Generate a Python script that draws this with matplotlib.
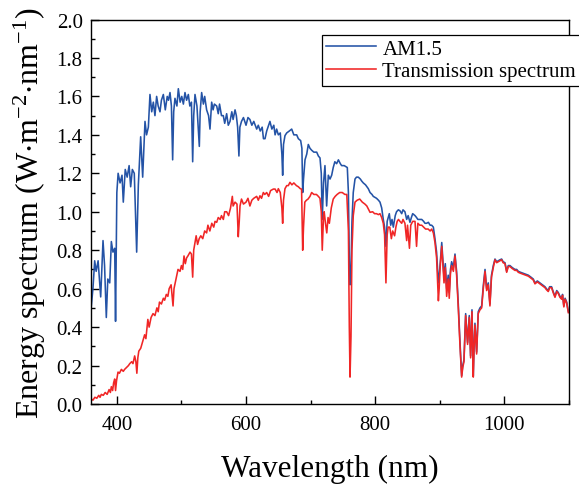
import numpy as np
import matplotlib
matplotlib.use("Agg")
from matplotlib import pyplot as plt
from matplotlib.ticker import MultipleLocator

# AM1.5 spectrum (nm, W m^-2 nm^-1)
am15_wl = [360.5, 363, 365.7, 368, 371, 375, 378.6, 381, 383.7, 386, 389, 391.5, 394, 396.7, 398,
           400, 402, 405, 408, 410, 413, 416, 419, 421.4, 424, 427, 430.7, 433.3, 436.9, 440,
           443.6, 446, 448.8, 451.3, 454, 456.5, 459, 461.6, 464, 466.8, 469, 472, 475, 478, 480,
           482.3, 484.5, 486.4, 488, 490, 493, 495.2, 498, 500.5, 503, 505.5, 508, 510.7, 513,
           515.5, 517.4, 519, 521, 524, 527.7, 529, 531.3, 534, 536, 539, 542, 544.2, 546.8, 549,
           551, 554.6, 557, 559, 562, 564.8, 567, 570, 572.5, 575.2, 578, 580, 583, 585, 587, 589,
           590.5, 593, 596, 600, 603, 606, 609, 612, 616.5, 619, 622, 625, 627, 629.4, 632, 635,
           637, 640, 643, 645, 647.4, 650, 653, 655.5, 656.7, 658, 660.3, 663, 667, 670.7, 674,
           678.4, 681, 684.6, 686.5, 687.7, 689, 691.3, 694, 696.4, 699, 701.6, 705, 709.4, 712,
           714.5, 716.5, 718, 720, 722.2, 724.8, 727.4, 730, 732.6, 735, 737.5, 740.3, 743, 746,
           748, 752, 756.8, 758.5, 759.9, 761, 762.5, 764, 766, 768.7, 771, 773.8, 777, 779, 781.5,
           785, 789.3, 792, 795, 797, 802, 805, 807.4, 810, 812.5, 814.5, 816.6, 818.5, 821.8,
           824, 826, 828, 831, 833, 835.8, 838.3, 841, 843, 846, 848.7, 851, 853.8, 856, 858,
           861.6, 864, 866, 869.3, 872, 875, 877, 879.6, 882.3, 885, 887.4, 890, 892.5, 895,
           897.8, 899, 900.3, 903, 906.5, 908.5, 910.6, 913, 914.6, 916.5, 918.3, 921, 923.5, 926,
           928.6, 931, 933.8, 935.5, 937.4, 940, 943, 945.6, 947.7, 949.8, 951.8, 953, 954.4, 957,
           959.5, 962.2, 964.8, 967.3, 970, 972.5, 975, 977.6, 980, 982.8, 985.4, 988, 990.5, 993,
           995.7, 998, 1000.9, 1003.5, 1006, 1008.6, 1012, 1016.3, 1019, 1021.5, 1025, 1029.2,
           1033, 1037, 1041, 1044.7, 1047.3, 1051, 1055, 1059, 1062.8, 1065, 1067.9, 1070, 1073,
           1076, 1078.3, 1081, 1083.4, 1086, 1088.6, 1090, 1092, 1094, 1096.4, 1099]
am15_val = [0.51, 0.60, 0.745, 0.69, 0.745, 0.557, 0.85, 0.72, 0.45, 0.65, 0.63, 0.845, 0.79, 0.81, 0.43,
            1.10, 1.20, 1.15, 1.19, 1.05, 1.22, 1.18, 1.24, 1.13, 1.22, 1.20, 0.79, 1.14, 1.39, 1.18,
            1.47, 1.40, 1.44, 1.61, 1.52, 1.57, 1.50, 1.60, 1.55, 1.52, 1.58, 1.61, 1.53, 1.60, 1.58,
            1.62, 1.55, 1.27, 1.52, 1.59, 1.55, 1.64, 1.57, 1.60, 1.56, 1.62, 1.58, 1.61, 1.55,
            1.57, 1.26, 1.50, 1.61, 1.55, 1.34, 1.52, 1.62, 1.56, 1.60, 1.53, 1.50, 1.43, 1.57, 1.53,
            1.56, 1.55, 1.51, 1.56, 1.50, 1.50, 1.46, 1.51, 1.45, 1.47, 1.52, 1.48, 1.53, 1.50, 1.44, 1.29,
            1.44, 1.47, 1.49, 1.45, 1.49, 1.48, 1.45, 1.47, 1.43, 1.45, 1.42, 1.44, 1.38, 1.38, 1.42, 1.45,
            1.47, 1.43, 1.45, 1.40, 1.43, 1.40, 1.41, 1.30, 1.19, 1.35, 1.396, 1.41, 1.42, 1.43, 1.40,
            1.40, 1.38, 1.37, 1.33, 1.10, 1.17, 1.27, 1.30, 1.35, 1.33, 1.32, 1.31, 1.31, 1.29,
            1.28, 1.20, 0.96, 1.15, 1.24, 1.03, 1.19, 1.17, 1.19, 1.23, 1.26, 1.25, 1.27, 1.25,
            1.24, 1.24, 1.23, 1.10, 0.75, 0.62, 0.70, 0.95, 1.10, 1.17, 1.18, 1.18, 1.17, 1.16, 1.15,
            1.14, 1.12, 1.10, 1.09, 1.08, 1.07, 1.06, 1.05, 1.02, 0.96, 0.92, 0.82, 0.95, 0.99,
            0.93, 0.96, 0.92, 0.98, 1.00, 1.01, 1.005, 0.99, 1.01, 1.00, 0.96, 0.98, 0.945, 0.97, 0.99,
            0.98, 0.97, 0.96, 0.96, 0.96, 0.95, 0.94, 0.94, 0.945, 0.93, 0.93, 0.92, 0.86, 0.79,
            0.63, 0.66, 0.72, 0.84, 0.66, 0.73, 0.60, 0.67, 0.58, 0.70, 0.74, 0.71, 0.78, 0.69,
            0.52, 0.34, 0.147, 0.20, 0.23, 0.47, 0.32, 0.46, 0.25, 0.49, 0.147, 0.30, 0.42, 0.27,
            0.48, 0.50, 0.51, 0.615, 0.70, 0.60, 0.63, 0.52, 0.67, 0.72, 0.754, 0.74, 0.745, 0.75,
            0.754, 0.74, 0.735, 0.69, 0.72, 0.72, 0.71, 0.70, 0.70, 0.69, 0.685, 0.68,
            0.675, 0.67, 0.66, 0.65, 0.63, 0.64, 0.63, 0.62, 0.61, 0.60, 0.59, 0.61, 0.61,
            0.58, 0.56, 0.59, 0.58, 0.56, 0.55, 0.57, 0.51, 0.55, 0.53, 0.48]

# transmitted spectrum
trans_wl = [360.5, 363, 366, 369, 372, 374, 376, 379, 382, 385, 388, 390, 391.5, 393.5, 395, 396.7,
            398, 399.5, 401.8, 404, 407, 410, 412, 415, 418, 420, 423, 425, 427.6, 429.5, 431,
            432.5, 434, 437, 440.5, 443, 445, 448, 450, 453, 456, 459, 462, 464, 466, 469, 472,
            474, 476.6, 479, 481, 484, 486, 487, 488.5, 491, 494.7, 497.8, 500, 502, 504, 506, 508,
            510, 513.3, 515.5, 517.4, 519, 522.8, 525, 527.5, 530, 533, 536, 539, 541, 544, 547,
            550, 552, 554.6, 557, 560, 562, 564.9, 567, 570, 573, 576, 578.8, 580, 583, 586, 588,
            589.5, 590.7, 593, 596, 600, 603, 606, 609, 612, 616.5, 619, 621.6, 624, 626.8, 629,
            632, 635, 638, 642.3, 645, 648, 650, 653, 655.5, 656.7, 658, 660.3, 663, 665.5, 668,
            671, 674, 678, 681, 684, 686, 687.7, 689, 691, 693.5, 696, 699, 701.6, 705, 709, 712,
            714.5, 716.5, 718, 720, 721, 723, 725, 727, 729, 732, 735, 738, 741, 745, 749, 753, 756,
            758.5, 759.9, 761, 762.5, 764, 766, 768.7, 772, 776, 780, 784, 787, 790, 792, 796, 799,
            802, 805, 807.4, 810, 812.5, 814.5, 816.6, 818.5, 820, 822.5, 825, 827, 830, 832, 834,
            836, 838.3, 841, 843, 846, 848.7, 850, 853, 855, 858, 861.6, 864, 866, 869, 872, 875,
            878, 882, 885, 887.4, 890, 892.5, 895, 897.8, 899, 900.3, 903, 906.5, 908.5, 910.6, 913,
            914.6, 916.5, 918.3, 921, 923.5, 926, 928.6, 931, 933.8, 935.5, 937.4, 940, 943, 945.6,
            947.7, 949.8, 951.8, 953, 954.4, 957, 959.5, 962.2, 964.8, 967.3, 970, 972.5, 975,
            977.6, 980, 982.8, 985.4, 988, 990.5, 993, 995.7, 998, 1000.9, 1003.5, 1006, 1008.6,
            1012, 1016.3, 1019, 1021.5, 1025, 1029.2, 1033, 1037, 1041, 1044.7, 1047.3, 1051, 1055,
            1059, 1062.8, 1065, 1067.9, 1070, 1073, 1076, 1078.3, 1081, 1083.4, 1086, 1088.6, 1090,
            1092, 1094, 1096.4, 1099]
trans_val = [0.026, 0.02, 0.035, 0.03, 0.045, 0.035, 0.05, 0.045, 0.06, 0.05, 0.075, 0.06, 0.09, 0.07, 0.11, 0.13,
             0.07, 0.12, 0.166, 0.16, 0.18, 0.17, 0.18, 0.19, 0.20, 0.21, 0.22, 0.21, 0.25, 0.22, 0.16,
             0.24, 0.275, 0.29, 0.33, 0.36, 0.34, 0.44, 0.40, 0.45, 0.47, 0.46, 0.50, 0.48, 0.53, 0.52, 0.55,
             0.54, 0.57, 0.56, 0.60, 0.62, 0.55, 0.51, 0.60, 0.64, 0.70, 0.69, 0.72, 0.70, 0.77, 0.73, 0.76,
             0.77, 0.79, 0.78, 0.66, 0.80, 0.875, 0.83, 0.86, 0.875, 0.86, 0.90, 0.89, 0.93, 0.90, 0.94,
             0.92, 0.95, 0.945, 0.97, 0.96, 0.98, 0.96, 1.00, 1.00, 0.98, 1.02, 1.08, 1.03, 1.05, 1.04, 0.87,
             0.95, 1.03, 1.066, 1.04, 1.05, 1.07, 1.03, 1.06, 1.07, 1.08, 1.06, 1.083, 1.07, 1.10, 1.09,
             1.10, 1.08, 1.11, 1.118, 1.118, 1.10, 1.12, 1.10, 1.02, 0.94, 1.06, 1.12, 1.136, 1.136, 1.153,
             1.14, 1.15, 1.136, 1.13, 1.12, 1.118, 0.80, 0.92, 1.05, 1.06, 1.066, 1.08, 1.10, 1.09, 1.09, 1.08,
             1.07, 1.00, 0.80, 0.98, 1.00, 0.94, 0.89, 0.97, 0.94, 1.02, 1.066, 1.08, 1.09, 1.10, 1.10, 1.09, 1.09,
             0.90, 0.40, 0.14, 0.35, 0.80, 0.98, 1.05, 1.06, 1.066, 1.05, 1.04, 1.03, 1.01, 0.997, 1.00, 0.99,
             0.99, 0.985, 0.99, 0.97, 0.94, 0.88, 0.63, 0.88, 0.92, 0.92, 0.86, 0.90, 0.875, 0.92, 0.95,
             0.96, 0.95, 0.94, 0.96, 0.94, 0.85, 0.93, 0.81, 0.93, 0.95, 0.95, 0.82, 0.94, 0.93, 0.93, 0.92,
             0.91, 0.91, 0.90, 0.91, 0.89, 0.84, 0.76, 0.537, 0.60, 0.70, 0.82, 0.63, 0.71, 0.56, 0.65,
             0.55, 0.68, 0.72, 0.69, 0.77, 0.67, 0.50, 0.32, 0.14, 0.19, 0.22, 0.46, 0.31, 0.45,
             0.24, 0.48, 0.14, 0.29, 0.41, 0.26, 0.47, 0.49, 0.50, 0.60, 0.69, 0.59, 0.62,
             0.51, 0.66, 0.71, 0.75, 0.735, 0.74, 0.745, 0.75, 0.735, 0.73, 0.685, 0.715, 0.715,
             0.705, 0.695, 0.695, 0.685, 0.68, 0.675, 0.67, 0.665, 0.655, 0.645, 0.625, 0.635, 0.625,
             0.615, 0.605, 0.595, 0.585, 0.605, 0.605, 0.575, 0.555, 0.585, 0.575, 0.555, 0.545, 0.565,
             0.505, 0.545, 0.525, 0.475]

plt.rcParams['font.family'] = ['Liberation Serif', 'DejaVu Serif']
plt.rcParams['mathtext.fontset'] = 'custom'
plt.rcParams['mathtext.rm'] = 'Liberation Serif'
plt.rcParams['mathtext.default'] = 'regular'

fig = plt.figure(figsize=(5.79, 4.85), dpi=100)
ax = fig.add_axes([91/579, 80/485, 478/579, 384.5/485])

ax.plot(am15_wl, am15_val, color='#2453a6', lw=1.15, label='AM1.5')
ax.plot(trans_wl, trans_val, color='#f02626', lw=1.15, label='Transmission spectrum')

ax.set_xlim(360, 1100)
ax.set_ylim(0, 2.0)
ax.xaxis.set_major_locator(MultipleLocator(200))
ax.xaxis.set_minor_locator(MultipleLocator(100))
ax.yaxis.set_major_locator(MultipleLocator(0.2))
ax.yaxis.set_minor_locator(MultipleLocator(0.1))
ax.tick_params(which='both', direction='in', top=False, right=False, width=1.0, labelsize=15)
ax.tick_params(axis='x', pad=8)
ax.tick_params(axis='y', pad=6)
ax.tick_params(which='major', length=5.5)
ax.tick_params(which='minor', length=3)
for s in ax.spines.values():
    s.set_linewidth(1.0)

ax.set_xlabel('Wavelength (nm)', fontsize=22.5, labelpad=14)
ax.set_ylabel(r'Energy spectrum (W$\cdot$m$^{-2}$$\cdot$nm$^{-1}$)', fontsize=23, labelpad=6)

leg = ax.legend(loc='upper left', bbox_to_anchor=(322/579, 1 - 36/485), bbox_transform=fig.transFigure,
                fontsize=15, frameon=True, fancybox=False, edgecolor='black', framealpha=1,
                borderpad=0.2, borderaxespad=0, handlelength=2.4, handletextpad=0.3, labelspacing=0.15)
leg.get_frame().set_linewidth(0.9)

fig.savefig('out.png', dpi=100)
